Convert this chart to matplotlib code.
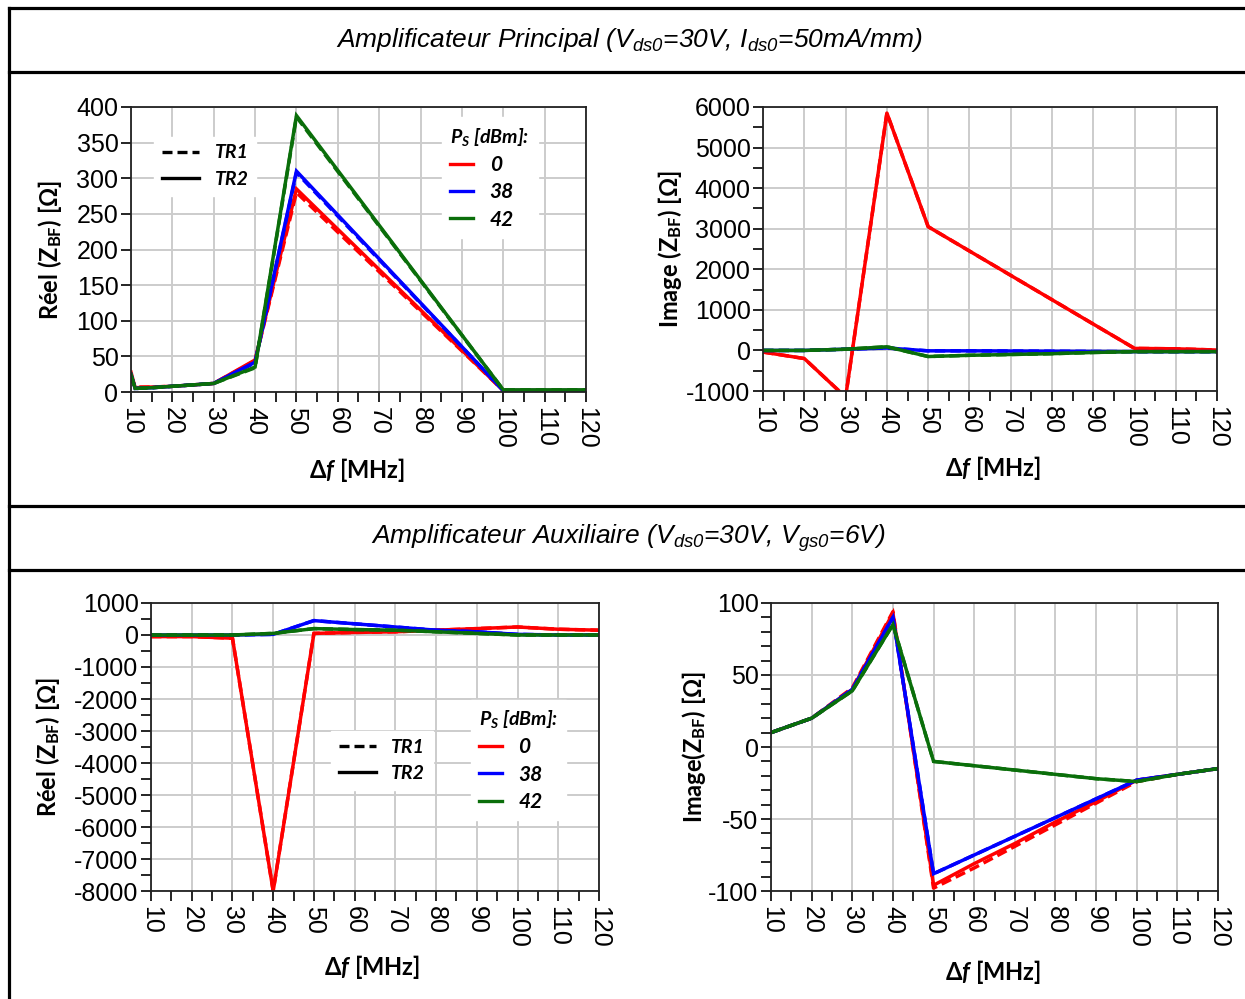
import matplotlib
matplotlib.use("Agg")
import matplotlib.pyplot as plt
from matplotlib.lines import Line2D
from matplotlib.ticker import MultipleLocator

plt.rcParams['axes.unicode_minus'] = False
plt.rcParams['mathtext.fontset'] = 'custom'
plt.rcParams['mathtext.rm'] = 'Liberation Sans:italic'
plt.rcParams['mathtext.it'] = 'Liberation Sans:italic'
plt.rcParams['mathtext.bf'] = 'Lato:bold'
plt.rcParams['mathtext.bfit'] = 'Lato:bold:italic'

# ---- données ----
puissances = ['0', '38', '42']
couleurs = ['#ff0000', '#0000ff', '#0a6e0a']

# Amplificateur principal, partie réelle
f_pr = [10, 11, 15, 20, 30, 40, 50, 100, 110, 120]
pr_re_0_tr2 = [28, 6, 7, 8, 12, 45, 285, 2, 2, 2]
pr_re_0_tr1 = [22, 7, 7, 8, 12, 44, 280, 2, 2, 2]
pr_re_38_tr2 = [25, 5, 6, 8, 12, 42, 310, 2, 2, 2]
pr_re_38_tr1 = [24, 5, 6, 8, 12, 41, 308, 2, 2, 2]
pr_re_42_tr2 = [25, 5, 6, 8, 12, 35, 388, 3, 3, 3]
pr_re_42_tr1 = [23, 5, 6, 8, 12, 34, 386, 3, 3, 3]

# Amplificateur principal, partie imaginaire
f_pi = [10, 20, 30, 40, 50, 60, 70, 80, 90, 100, 110, 120]
pr_im_0_tr2 = [-40, -200, -1150, 5850, 3050, 2450, 1850, 1250, 650, 50, 40, 10]
pr_im_0_tr1 = [-40, -200, -1150, 5850, 3050, 2450, 1850, 1250, 650, 50, 40, 10]
pr_im_38_tr2 = [0, 0, 30, 60, -10, -10, -15, -20, -25, -30, -30, -30]
pr_im_38_tr1 = [0, 0, 30, 60, -10, -10, -15, -20, -25, -30, -30, -30]
pr_im_42_tr2 = [0, 0, 30, 90, -150, -120, -100, -80, -50, -30, -30, -30]
pr_im_42_tr1 = [0, 0, 30, 90, -150, -120, -100, -80, -50, -30, -30, -30]

# Amplificateur auxiliaire, partie réelle
f_ar = [10, 20, 30, 40, 50, 60, 70, 80, 90, 100, 110, 120]
au_re_0_tr2 = [-50, -50, -100, -8000, 50, 80, 100, 150, 200, 250, 180, 150]
au_re_0_tr1 = [-50, -50, -100, -8000, 50, 80, 100, 150, 200, 250, 180, 150]
au_re_38_tr2 = [0, 0, 0, 20, 450, 350, 250, 150, 100, 20, 0, 0]
au_re_38_tr1 = [0, 0, 0, 20, 450, 350, 250, 150, 100, 20, 0, 0]
au_re_42_tr2 = [0, 0, 0, 50, 200, 170, 150, 100, 50, 0, 0, 0]
au_re_42_tr1 = [0, 0, 0, 50, 200, 170, 150, 100, 50, 0, 0, 0]

# Amplificateur auxiliaire, partie imaginaire
f_ai = [10, 20, 30, 40, 50, 60, 70, 80, 90, 100, 110, 120]
au_im_0_tr2 = [10, 20, 40, 93, -96, -81, -67, -52, -38, -23, -19, -15]
au_im_0_tr1 = [10, 20, 41, 94, -98, -84, -69, -54, -39, -24, -19, -15]
au_im_38_tr2 = [10, 20, 40, 90, -88, -75, -62, -49, -36, -23, -19, -15]
au_im_38_tr1 = [10, 20, 40, 90, -88, -75, -62, -49, -36, -23, -19, -15]
au_im_42_tr2 = [10, 20, 39, 85, -10, -13, -16, -19, -22, -24, -19, -15]
au_im_42_tr1 = [10, 20, 39, 85, -10, -13, -16, -19, -22, -24, -19, -15]

fig = plt.figure(figsize=(12.45, 9.99), dpi=100)

font_ticks = ['Liberation Sans Narrow', 'Liberation Sans']
font_lab = 'Lato'


def preparer(ax, ylim, ymaj, ymin, ylabel, ylab_x, xlab_pos):
    ax.set_xlim(10, 120)
    ax.set_ylim(*ylim)
    ax.xaxis.set_major_locator(MultipleLocator(10))
    ax.xaxis.set_minor_locator(MultipleLocator(5))
    ax.yaxis.set_major_locator(MultipleLocator(ymaj))
    if ymin:
        ax.yaxis.set_minor_locator(MultipleLocator(ymin))
    ax.grid(True, which='major', color='#cccccc', lw=1.4)
    ax.set_axisbelow(True)
    ax.tick_params(which='both', direction='out', length=7, width=1.2, colors='black')
    ax.tick_params(axis='y', labelsize=18, pad=2)
    ax.tick_params(axis='x', labelsize=18, labelrotation=270, pad=4)
    for lab in ax.get_xticklabels() + ax.get_yticklabels():
        lab.set_fontfamily(font_ticks)
    for s in ax.spines.values():
        s.set_linewidth(1.3)
        s.set_color('#222222')
    ax.set_ylabel(ylabel, fontsize=17, fontweight='bold', family=[font_lab, 'DejaVu Sans'])
    ax.yaxis.set_label_coords(ylab_x, 0.5)
    ax.set_xlabel(r'Δ$\mathbfit{f}$ [MHz]', fontsize=17, fontweight='bold',
                  family=[font_lab, 'DejaVu Sans'])
    ax.xaxis.set_label_coords(*xlab_pos)


def tracer(ax, f, series):
    for (tr2, tr1), c in zip(series, couleurs):
        ax.plot(f, tr2, color=c, lw=2.5, solid_joinstyle='miter')
        ax.plot(f, tr1, color=c, lw=2.5, ls=(0, (3, 1.5)))


def legendes(ax, pos_ls, pos_c):
    h_ls = [Line2D([], [], color='black', lw=2.4, ls=(0, (3, 1.5))),
            Line2D([], [], color='black', lw=2.4)]
    leg1 = ax.legend(h_ls, ['TR1', 'TR2'], loc='upper left', bbox_to_anchor=pos_ls,
                     frameon=True, fancybox=False, edgecolor='white', framealpha=1,
                     handlelength=1.9, handletextpad=0.8, labelspacing=0.5,
                     prop={'family': font_lab, 'weight': 'bold', 'style': 'italic', 'size': 14})
    ax.add_artist(leg1)
    h_c = [Line2D([], [], color=c, lw=2.4) for c in couleurs]
    leg2 = ax.legend(h_c, puissances, loc='upper left', bbox_to_anchor=pos_c,
                     frameon=True, fancybox=False, edgecolor='white', framealpha=1,
                     handlelength=1.1, handletextpad=0.8, labelspacing=0.35,
                     title=r'P$_{\mathbfit{S}}$ [dBm]:',
                     title_fontproperties={'family': font_lab, 'weight': 'bold',
                                           'style': 'italic', 'size': 14},
                     prop={'family': font_lab, 'weight': 'bold', 'style': 'italic', 'size': 15})
    for t in leg2.get_texts():
        t.set_ha('right')
    leg2._legend_box.align = 'left'


ylab_re = r'Réel (Z$_{\mathbf{BF}}$) [Ω]'

# --- principal, réel ---
ax1 = fig.add_axes([0.1052, 0.6076, 0.3655, 0.2853])
preparer(ax1, (0, 400), 50, None, ylab_re, -0.147, (0.497, -0.225))
tracer(ax1, f_pr, [(pr_re_0_tr2, pr_re_0_tr1), (pr_re_38_tr2, pr_re_38_tr1),
                   (pr_re_42_tr2, pr_re_42_tr1)])
legendes(ax1, (0.03, 0.93), (0.66, 1.0))

# --- principal, imaginaire ---
ax2 = fig.add_axes([0.6129, 0.6086, 0.3647, 0.2843])
preparer(ax2, (-1000, 6000), 1000, 500, r'Image (Z$_{\mathbf{BF}}$) [Ω]', -0.174, (0.507, -0.222))
tracer(ax2, f_pi, [(pr_im_0_tr2, pr_im_0_tr1), (pr_im_38_tr2, pr_im_38_tr1),
                   (pr_im_42_tr2, pr_im_42_tr1)])

# --- auxiliaire, réel ---
ax3 = fig.add_axes([0.1213, 0.1081, 0.3598, 0.2883])
preparer(ax3, (-8000, 1000), 1000, 500, ylab_re, -0.199, (0.493, -0.215))
tracer(ax3, f_ar, [(au_re_0_tr2, au_re_0_tr1), (au_re_38_tr2, au_re_38_tr1),
                   (au_re_42_tr2, au_re_42_tr1)])
legendes(ax3, (0.38, 0.59), (0.69, 0.70))

# --- auxiliaire, imaginaire ---
ax4 = fig.add_axes([0.6193, 0.1081, 0.3590, 0.2883])
preparer(ax4, (-100, 100), 50, 10, r'Image(Z$_{\mathbf{BF}}$) [Ω]', -0.141, (0.497, -0.232))
tracer(ax4, f_ai, [(au_im_0_tr2, au_im_0_tr1), (au_im_38_tr2, au_im_38_tr1),
                   (au_im_42_tr2, au_im_42_tr1)])

# cadre type tableau
W, H = 1245.0, 999.0
def trait(x0, y0, x1, y1):
    fig.add_artist(Line2D([x0 / W, x1 / W], [1 - y0 / H, 1 - y1 / H],
                          transform=fig.transFigure, color='black', lw=2.3))

trait(9, 8, 9, 999)
for yy in (8, 72, 506, 570):
    trait(9, yy, 1245, yy)

fig.text(0.505, 1 - 40 / H, r'Amplificateur Principal (V$_{ds0}$=30V, I$_{ds0}$=50mA/mm)',
         ha='center', va='center', fontsize=19, style='italic', family='Liberation Sans')
fig.text(0.505, 1 - 538 / H, r'Amplificateur Auxiliaire (V$_{ds0}$=30V, V$_{gs0}$=6V)',
         ha='center', va='center', fontsize=19, style='italic', family='Liberation Sans')

fig.savefig('out.png', dpi=100)
